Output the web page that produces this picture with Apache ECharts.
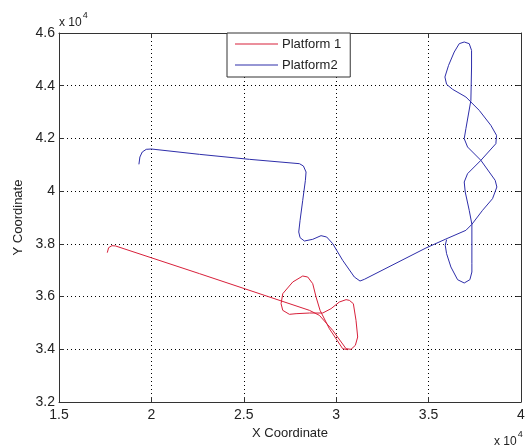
<!DOCTYPE html>
<html>
<head>
<meta charset="utf-8">
<script src="https://cdn.jsdelivr.net/npm/echarts@6/dist/echarts.min.js"></script>
<style>
  html, body { margin: 0; padding: 0; background: #fff; }
  #chart { width: 530px; height: 447px; }
</style>
</head>
<body>
<div id="chart"></div>
<script>
const seriesNames = ['Platform 1', 'Platform2'];

const platform1X = [17613, 17685, 17865, 18063, 22604, 28550, 29090, 29810, 30532, 30802,
  31036, 31162, 31072, 30928, 30712, 30532, 30171, 29721, 29270, 28550,
  27829, 27468, 27108, 27018, 27108, 27649, 28189, 28459, 28730, 28910,
  29126, 29630, 30351, 30622];
const platform1Y = [37666, 37855, 37931, 37919, 36869, 35478, 35288, 34719, 34023, 33998,
  34150, 34466, 35098, 35731, 35857, 35882, 35794, 35541, 35376, 35376,
  35351, 35326, 35478, 35731, 36110, 36553, 36780, 36742, 36490, 35984,
  35478, 34782, 34023, 33985];

const platform2X = [19324, 19378, 19505, 19721, 19991, 22604, 25306, 28009, 28225, 28369,
  28333, 28189, 28045, 27973, 28045, 28279, 28730, 29180, 29486, 29811,
  30351, 30982, 31288, 31523, 34856, 35937, 37018, 37342,
  37919, 38459, 38694, 38604, 37829, 37108, 36928, 37018, 37288,
  37324, 37324, 37198, 36928, 36658, 36387, 36081, 35883, 35973, 36297, 37018,
  37739, 38369, 38676, 38640, 37829, 37108, 36928, 36982, 37198, 37342,
  37342, 37342, 37234, 36928, 36568, 36207, 35973, 35901, 35973];
const platform2Y = [41017, 41295, 41485, 41586, 41599, 41396, 41207, 41042, 40954, 40726,
  40410, 39651, 38892, 38450, 38235, 38108, 38172, 38311, 38260, 38007,
  37375, 36742, 36590, 36654, 37843, 38184, 38513, 38741,
  39272, 39714, 40157, 40410, 41169, 41675, 41991, 42370, 43445,
  44710, 45342, 45595, 45659, 45595, 45279, 44773, 44331, 44052, 43863, 43572,
  43066, 42497, 42117, 41801, 41169, 40663, 40347, 39967, 39272, 38741,
  37248, 36932, 36641, 36515, 36641, 37122, 37628, 37944, 38159];

const xTicks = ['1.5', '2', '2.5', '3', '3.5', '4'];
const yTicks = ['3.2', '3.4', '3.6', '3.8', '4', '4.2', '4.4', '4.6'];

function pairs(xs, ys) {
  return xs.map((x, i) => [x, ys[i]]);
}

const textColor = '#222';
const font = 'Liberation Sans, Arial, sans-serif';

const gridLine = {
  show: true,
  lineStyle: { color: '#000', width: 1, type: [1, 3] }
};

const exponent = {
  a: { fontSize: 12, fill: textColor, fontFamily: font, padding: [8, 0, 0, 0] },
  b: { fontSize: 9, fill: textColor, fontFamily: font, padding: [0, 0, 6, 1] }
};

const myChart = echarts.init(document.getElementById('chart'));
myChart.setOption({
  animation: false,
  backgroundColor: '#fff',
  textStyle: { fontFamily: font },
  grid: { left: 59, right: 9, top: 33, bottom: 45 },
  legend: {
    orient: 'vertical',
    left: 227,
    top: 33,
    padding: [4, 9, 5, 8],
    itemGap: 7,
    itemWidth: 43,
    itemHeight: 1,
    icon: 'rect',
    backgroundColor: '#fff',
    borderColor: '#333',
    borderWidth: 1,
    borderRadius: 0,
    textStyle: { fontSize: 13, lineHeight: 14, color: textColor, fontFamily: font, padding: [0, 0, 0, -1] },
    data: seriesNames
  },
  xAxis: [{
    type: 'value',
    min: 15000,
    max: 40000,
    interval: 5000,
    name: 'X Coordinate',
    nameLocation: 'middle',
    nameGap: 24,
    nameTextStyle: { fontSize: 13, color: textColor },
    axisLine: { show: true, lineStyle: { color: '#333' } },
    axisTick: { show: true, inside: true, length: 5, lineStyle: { color: '#333' } },
    axisLabel: {
      fontSize: 14, color: textColor, margin: 6,
      formatter: (v) => xTicks[Math.round((v - 15000) / 5000)]
    },
    splitLine: gridLine
  }, {
    type: 'value',
    position: 'top',
    min: 15000,
    max: 40000,
    interval: 5000,
    axisLine: { show: true, lineStyle: { color: '#333' } },
    axisTick: { show: true, inside: true, length: 5, lineStyle: { color: '#333' } },
    axisLabel: { show: false },
    splitLine: { show: false }
  }],
  yAxis: [{
    type: 'value',
    min: 32000,
    max: 46000,
    interval: 2000,
    name: 'Y Coordinate',
    nameLocation: 'middle',
    nameGap: 32,
    nameTextStyle: { fontSize: 13, color: textColor },
    axisLine: { show: true, lineStyle: { color: '#333' } },
    axisTick: { show: true, inside: true, length: 5, lineStyle: { color: '#333' } },
    axisLabel: {
      fontSize: 14, color: textColor, margin: 4,
      formatter: (v) => yTicks[Math.round((v - 32000) / 2000)]
    },
    splitLine: gridLine
  }, {
    type: 'value',
    position: 'right',
    min: 32000,
    max: 46000,
    interval: 2000,
    axisLine: { show: true, lineStyle: { color: '#333' } },
    axisTick: { show: true, inside: true, length: 5, lineStyle: { color: '#333' } },
    axisLabel: { show: false },
    splitLine: { show: false }
  }],
  series: [{
    name: seriesNames[0],
    type: 'line',
    symbol: 'none',
    lineStyle: { color: '#d8203a', width: 1 },
    itemStyle: { color: '#d8203a' },
    data: pairs(platform1X, platform1Y)
  }, {
    name: seriesNames[1],
    type: 'line',
    symbol: 'none',
    lineStyle: { color: '#2e2eaa', width: 1 },
    itemStyle: { color: '#2e2eaa' },
    data: pairs(platform2X, platform2Y)
  }],
  graphic: [{
    type: 'text',
    left: 59,
    top: 11,
    style: { text: '{a|x 10}{b|4}', rich: exponent }
  }, {
    type: 'text',
    left: 494,
    top: 430,
    style: { text: '{a|x 10}{b|4}', rich: exponent }
  }]
});
window.addEventListener('resize', () => {
  myChart.resize();
});
</script>
</body>
</html>
